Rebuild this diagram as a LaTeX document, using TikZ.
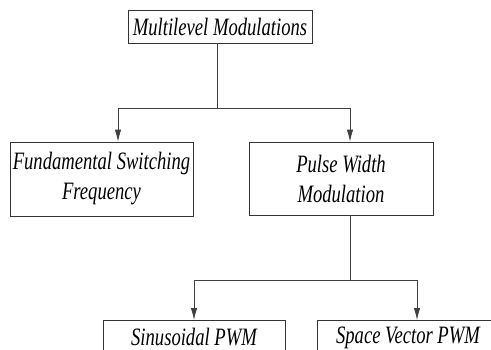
\documentclass[tikz,border=0pt]{standalone}
\usepackage{fontspec}
\newfontfamily\labfont[FakeStretch=0.745]{Liberation Serif Italic}
\usetikzlibrary{arrows.meta}
\begin{document}
\begin{tikzpicture}[x=1pt,y=-1pt,
  box/.style={draw=black!80,line width=0.8pt,inner sep=0pt,align=center,
    font=\labfont\fontsize{25}{30}\selectfont},
  conn/.style={draw=black!75,line width=0.8pt},
  arr/.style={conn,-{Latex[length=12pt,width=6.5pt]}}]
\useasboundingbox (0,0) rectangle (491,349);
\clip (0,0) rectangle (491,349);
\node[box,minimum width=184pt,minimum height=33pt] (top) at (220,26.5) {Multilevel Modulations};
\node[box,minimum width=183pt,minimum height=74pt] (left) at (101.5,179) {Fundamental Switching\\Frequency};
\node[box,minimum width=184pt,minimum height=73pt] (right) at (341,178.5) {Pulse Width\\Modulation};
\node[box,minimum width=182pt,minimum height=34pt,anchor=north] (bl) at (194,320) {Sinusoidal PWM};
\node[box,minimum width=182pt,minimum height=34pt,anchor=north] (br) at (408,320) {Space Vector PWM};
\coordinate (j1) at (217,108);
\coordinate (la) at (118,108);
\coordinate (ra) at (350,108);
\coordinate (j2) at (350,280);
\coordinate (lb) at (194,280);
\coordinate (rb) at (417,280);
\draw[conn] (j1 |- top.south) -- (j1);
\draw[conn] (la) -- (ra);
\draw[arr] (la) -- (la |- left.north);
\draw[arr] (ra) -- (ra |- right.north);
\draw[conn] (j2 |- right.south) -- (j2);
\draw[conn] (lb) -- (rb);
\draw[arr] (lb) -- (lb |- bl.north);
\draw[arr] (rb) -- (rb |- br.north);
\end{tikzpicture}
\end{document}
